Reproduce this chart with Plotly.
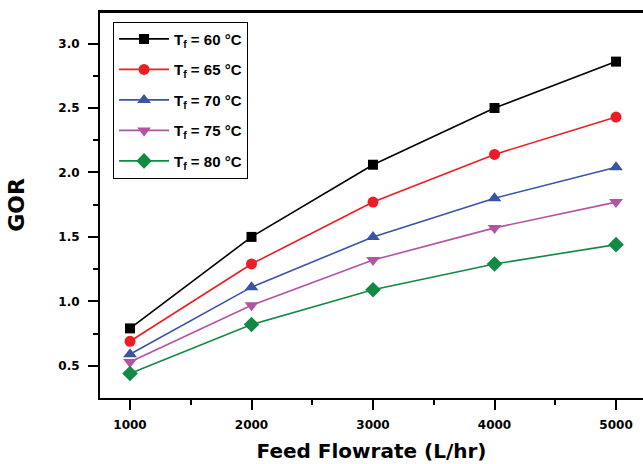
import plotly.graph_objects as go

flowrate = [1000, 2000, 3000, 4000, 5000]
gor_60 = [0.79, 1.50, 2.06, 2.50, 2.86]
gor_65 = [0.69, 1.29, 1.77, 2.14, 2.43]
gor_70 = [0.59, 1.11, 1.50, 1.80, 2.04]
gor_75 = [0.53, 0.97, 1.32, 1.57, 1.77]
gor_80 = [0.44, 0.82, 1.09, 1.29, 1.44]
labels = ["T<sub>f</sub> = 60 °C", "T<sub>f</sub> = 65 °C", "T<sub>f</sub> = 70 °C",
          "T<sub>f</sub> = 75 °C", "T<sub>f</sub> = 80 °C"]
y_ticks = [0.5, 1.0, 1.5, 2.0, 2.5, 3.0]
colors = ["#000000", "#ee1c24", "#3a53a4", "#b452a6", "#128a44"]
symbols = ["square", "circle", "triangle-up", "triangle-down", "diamond"]
sizes = [10, 11, 12, 12, 12]
series = [gor_60, gor_65, gor_70, gor_75, gor_80]

fig = go.Figure()
for i, (y, name, c, s, sz) in enumerate(zip(series, labels, colors, symbols, sizes)):
    fig.add_trace(go.Scatter(x=flowrate, y=y, name=name, mode="lines+markers",
                             legendgroup=f"g{i}",
                             line=dict(color=c, width=1.6),
                             marker=dict(symbol=s, size=sz, color=c)))

arial = "Liberation Sans, Arial, sans-serif"
dejavu = "DejaVu Sans, sans-serif"
fig.update_layout(
    width=643, height=464,
    margin=dict(l=100, r=0, t=12, b=66),
    plot_bgcolor="white", paper_bgcolor="white",
    font=dict(family=arial, color="black"),
    showlegend=True,
    legend=dict(x=0.024, y=0.975, xanchor="left", yanchor="top",
                bordercolor="black", borderwidth=1, bgcolor="white",
                font=dict(size=15, family=arial, color="black", weight="bold"),
                tracegroupgap=8, itemwidth=50),
    xaxis=dict(range=[753, 5222], tickvals=flowrate,
               ticktext=[f"<b>{v}</b>" for v in flowrate],
               automargin=False,
               showline=True, linecolor="black", linewidth=2, mirror=True,
               ticks="outside", ticklen=10, tickwidth=2, tickcolor="black",
               ticklabelstandoff=5,
               minor=dict(tickvals=[1500, 2500, 3500, 4500], ticks="outside",
                          ticklen=5, tickwidth=2, tickcolor="black"),
               showgrid=False, zeroline=False,
               tickfont=dict(size=12, family=dejavu),
               title=dict(text="<b>Feed Flowrate (L/hr)</b>",
                          font=dict(size=20, family=dejavu), standoff=13)),
    yaxis=dict(range=[0.25, 3.245], tickvals=y_ticks,
               ticktext=[f"<b>{v:.1f}</b>" for v in y_ticks],
               automargin=False,
               showline=True, linecolor="black", linewidth=2, mirror=False,
               ticks="outside", ticklen=10, tickwidth=2, tickcolor="black",
               ticklabelstandoff=6,
               minor=dict(tickvals=[0.75, 1.25, 1.75, 2.25, 2.75], ticks="outside",
                          ticklen=5, tickwidth=2, tickcolor="black"),
               showgrid=False, zeroline=False,
               tickfont=dict(size=12, family=dejavu),
               title=dict(text="<b>GOR</b>", font=dict(size=22, family=dejavu), standoff=28)),
)
fig.add_shape(type="line", xref="paper", yref="paper", x0=0, x1=1, y0=1, y1=1,
              line=dict(color="black", width=2))
fig.write_html("out.html", config={"displayModeBar": False},
               post_script="document.body.style.margin='0px';document.body.style.overflow='hidden';")
